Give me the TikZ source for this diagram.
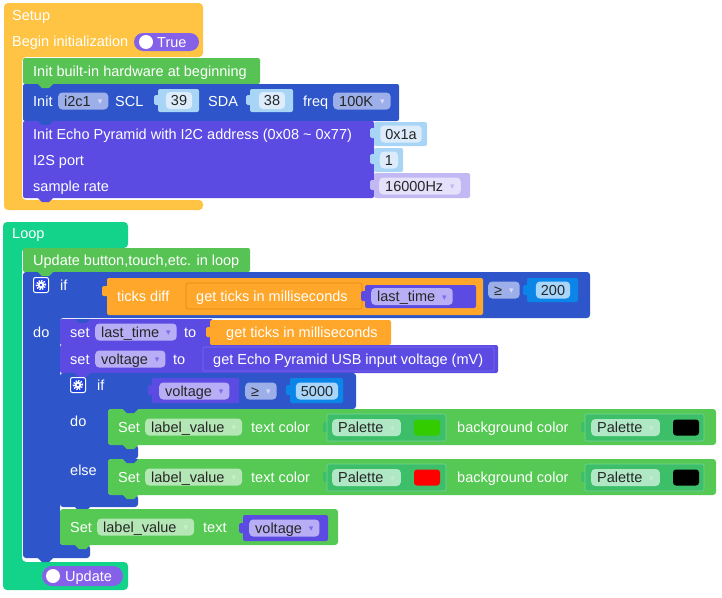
\documentclass[tikz,border=0pt]{standalone}
\usepackage{fontspec}
\setmainfont{Liberation Sans}
\newfontfamily\symfont{DejaVu Sans}
\usepackage{tikz}
\usetikzlibrary{positioning}
\definecolor{csetup}{HTML}{FFC444}
\definecolor{cloop}{HTML}{13D38A}
\definecolor{cgreen}{HTML}{58C355}
\definecolor{cblue}{HTML}{2E56CA}
\definecolor{cpurple}{HTML}{5C4BE3}
\definecolor{cpurpleln}{HTML}{7A6CEA}
\definecolor{corange}{HTML}{FFA72A}
\definecolor{corangeln}{HTML}{E08A12}
\definecolor{cnum}{HTML}{A8D4F6}
\definecolor{cnumin}{HTML}{DCECFA}
\definecolor{ccmp}{HTML}{0B86E8}
\definecolor{ccmpin}{HTML}{A8D6FA}
\definecolor{chz}{HTML}{C2B8F3}
\definecolor{chzin}{HTML}{E5E1FB}
\definecolor{ctoggle}{HTML}{8560E8}
\definecolor{cddblue}{HTML}{9DAFE8}
\definecolor{cddpurple}{HTML}{B8AEF5}
\definecolor{cset}{HTML}{55C953}
\definecolor{cpal}{HTML}{3DBF6A}
\definecolor{cddgreen}{HTML}{B5E6B5}
\definecolor{cddpal}{HTML}{B0E8C6}
\definecolor{cgear}{HTML}{2244DD}
\definecolor{cswgreen}{HTML}{33CC00}
\definecolor{cswred}{HTML}{FF0000}
\newcommand\blk{\fontsize{14.5}{17}\selectfont}
\newcommand\ddarr[1]{\hspace{7pt}\raisebox{1.5pt}{\symfont\fontsize{9}{9}\selectfont\textcolor{#1}{▾}}}

\begin{document}
\begin{tikzpicture}[x=1pt, y=-1pt,
    lbl/.style={anchor=west, inner sep=0pt, text=white, font=\blk, text height=10pt, text depth=0pt},
    dd/.style={anchor=west, rounded corners=4pt, inner xsep=6pt, inner ysep=0pt, minimum height=17pt, text=black!85, font=\blk, text height=10pt, text depth=0pt},
    numbox/.style={rounded corners=4pt, fill=cnumin, inner xsep=5pt, inner ysep=0pt, minimum height=17pt, text=black!85, font=\blk, text height=10pt, text depth=0pt},
    gear/.style={fill=cgear, draw=white, line width=1pt, rounded corners=2pt, minimum size=15pt, inner sep=0pt},
    swatch/.style={rounded corners=3pt, minimum width=26pt, minimum height=16pt, inner sep=0pt},
    inbox/.style={rounded corners=2pt, line width=0.6pt},
    nub/.style={rounded corners=1.5pt},
]
\useasboundingbox (0,0) rectangle (722,597);

% Setup
\fill[csetup, rounded corners=4pt] (4,3) -- (203,3) -- (203,57) -- (22,57) -- (22,200) -- (203,200) -- (203,210) -- (4,210) -- cycle;
\node[lbl] (setup) at (12,15) {Setup};
\node[lbl] (begin) at (12,41) {Begin initialization};
\fill[ctoggle, rounded corners=9pt] (134,33) rectangle (199,51);
\fill[white] (146,42) circle (7pt);
\node[lbl] (true) at (157,42) {True};

\fill[cgreen, rounded corners=2pt] (23,58) rectangle (260,84);
\node[lbl] (hw) at (33,71) {Init built-in hardware at beginning};

\fill[cblue, rounded corners=2pt] (23,84) rectangle (399,121);
\fill[cgreen] (38,84) -- ++(4,4) -- ++(7,0) -- ++(4,-4) -- cycle;
\node[lbl] (init) at (33,101) {Init};
\node[dd, fill=cddblue] (i2c) at (58,101) {i2c1\ddarr{white!85!blue}};
\node[lbl] (scl) at (115,101) {SCL};
\fill[cnum, nub] (154,95) rectangle (160,105);
\fill[cnum, rounded corners=2pt] (158,89) rectangle (199,112);
\node[numbox] (n39) at (179,100.5) {39};
\node[lbl] (sda) at (208,101) {SDA};
\fill[cnum, nub] (246,95) rectangle (252,105);
\fill[cnum, rounded corners=2pt] (250,89) rectangle (293,112);
\node[numbox] (n38) at (272,100.5) {38};
\node[lbl] (freq) at (303,101) {freq};
\node[dd, fill=cddblue] (khz) at (333,101) {100K\ddarr{white!85!blue}};

\fill[cpurple, rounded corners=2pt] (23,121) rectangle (374,198);
\fill[cblue] (38,121) -- ++(4,4) -- ++(7,0) -- ++(4,-4) -- cycle;
\fill[cpurple] (38,198) -- ++(4,4) -- ++(7,0) -- ++(4,-4) -- cycle;
\node[lbl] (echo) at (33,134) {Init Echo Pyramid with I2C address (0x08 \textasciitilde{} 0x77)};
\node[lbl] (port) at (33,160) {I2S port};
\node[lbl] (rate) at (33,186) {sample rate};
\fill[cnum, nub] (370,128) rectangle (376,138);
\fill[cnum, rounded corners=2pt] (374,122) rectangle (427,146);
\node[numbox] (addr) at (401,134) {0x1a};
\fill[cnum, nub] (370,154) rectangle (376,164);
\fill[cnum, rounded corners=2pt] (374,148) rectangle (403,172);
\node[numbox] (n1) at (389,160) {1};
\fill[chz, nub] (370,180) rectangle (376,190);
\fill[chz, rounded corners=2pt] (374,173) rectangle (470,198);
\node[dd, fill=chzin] (hz) at (379,186) {16000Hz\ddarr{chz}};

% Loop
\fill[cloop, rounded corners=4pt] (3,222) -- (128,222) -- (128,248) -- (22,248) -- (22,562) -- (128,562) -- (128,590) -- (3,590) -- cycle;
\node[lbl] (loop) at (12,233) {Loop};
\fill[ctoggle, rounded corners=10pt] (42,566) rectangle (123,586);
\fill[white] (53,576) circle (7pt);
\node[lbl] (update) at (65,576) {Update};

\fill[cgreen, rounded corners=2pt] (23,248) rectangle (250,272);
\node[lbl] (btn) at (33,260) {Update button,touch,etc. in loop};

% Outer if
\fill[cblue, rounded corners=3pt] (23,272) -- (590,272) -- (590,318) -- (60,318) -- (60,545) -- (90,545) -- (90,558) -- (23,558) -- cycle;
\fill[cgreen] (38,272) -- ++(4,4) -- ++(7,0) -- ++(4,-4) -- cycle;
\fill[cblue] (38,558) -- ++(4,4) -- ++(7,0) -- ++(4,-4) -- cycle;
\node[gear] (g1) at (41,285) {};
\fill[white] (g1.center) circle (3.3pt);
\draw[white, line width=2pt, dash pattern=on 1.3pt off 1.3pt] (g1.center) circle (4.3pt);
\fill[cgear] (g1.center) circle (1.4pt);
\node[lbl] (if1) at (60,285) {if};
\node[lbl] (do1) at (33,332) {do};

\fill[corange, nub] (102,286) rectangle (109,296);
\fill[corange, rounded corners=2pt] (107,278) rectangle (483,315);
\node[lbl] (diff) at (117,296) {ticks diff};
\draw[corangeln, fill=corange, inbox] (186,283) rectangle (362,309);
\node[lbl] (ticks1) at (196,296) {get ticks in milliseconds};
\fill[cpurple, nub] (361,291) rectangle (367,301);
\fill[cpurple, rounded corners=2pt] (365,285) rectangle (476,308);
\node[dd, fill=cddpurple] (last1) at (371,296.5) {last\_time\ddarr{cpurpleln}};
\node[dd, fill=cddblue] (ge1) at (488,290) {≥\ddarr{white!85!blue}};
\fill[ccmp, nub] (523,285) rectangle (529,295);
\fill[ccmp, rounded corners=2pt] (527,278) rectangle (578,302);
\node[numbox, fill=ccmpin] (n200) at (553,290) {200};

\fill[cpurple, rounded corners=2pt] (60,319) rectangle (213,345);
\fill[cblue] (75,319) -- ++(4,4) -- ++(7,0) -- ++(4,-4) -- cycle;
\node[lbl] (set1) at (70,332) {set};
\node[dd, fill=cddpurple] (last2) at (95,332) {last\_time\ddarr{cpurpleln}};
\node[lbl] (to1) at (184,332) {to};
\fill[corange, nub] (206,327) rectangle (212,337);
\fill[corange, rounded corners=2pt] (210,320) rectangle (391,345);
\node[lbl] (ticks2) at (226,332) {get ticks in milliseconds};

\fill[cpurple, rounded corners=2pt] (60,345) rectangle (498,373);
\fill[cpurple] (75,345) -- ++(4,4) -- ++(7,0) -- ++(4,-4) -- cycle;
\node[lbl] (set2) at (70,359) {set};
\node[dd, fill=cddpurple] (volt1) at (95,359) {voltage\ddarr{cpurpleln}};
\node[lbl] (to2) at (173,359) {to};
\draw[cpurpleln, fill=cpurple, inbox] (203,347) rectangle (494,371);
\node[lbl] (usb) at (213,359) {get Echo Pyramid USB input voltage (mV)};

% Inner if
\fill[cblue, rounded corners=3pt] (60,373) -- (356,373) -- (356,409) -- (108,409) -- (108,445) -- (138,445) -- (138,459) -- (108,459) -- (108,495) -- (138,495) -- (138,507) -- (60,507) -- cycle;
\fill[cpurple] (75,373) -- ++(4,4) -- ++(7,0) -- ++(4,-4) -- cycle;
\fill[cblue] (75,507) -- ++(4,4) -- ++(7,0) -- ++(4,-4) -- cycle;
\node[gear] (g2) at (78,385) {};
\fill[white] (g2.center) circle (3.3pt);
\draw[white, line width=2pt, dash pattern=on 1.3pt off 1.3pt] (g2.center) circle (4.3pt);
\fill[cgear] (g2.center) circle (1.4pt);
\node[lbl] (if2) at (97,385) {if};
\node[lbl] (do2) at (70,421) {do};
\node[lbl] (else) at (70,470) {else};
\fill[cpurple, nub] (148,385) rectangle (154,395);
\fill[cpurple, rounded corners=2pt] (152,378) rectangle (239,403);
\node[dd, fill=cddpurple] (volt2) at (159,391) {voltage\ddarr{cpurpleln}};
\node[dd, fill=cddblue] (ge2) at (245,391) {≥\ddarr{white!85!blue}};
\fill[ccmp, nub] (286,385) rectangle (292,395);
\fill[ccmp, rounded corners=2pt] (290,378) rectangle (343,403);
\node[numbox, fill=ccmpin] (n5000) at (317,391) {5000};

% Set text color rows
\fill[cset, rounded corners=3pt] (108,409) rectangle (716,445);
\fill[cblue] (123,409) -- ++(4,4) -- ++(7,0) -- ++(4,-4) -- cycle;
\fill[cset] (123,445) -- ++(4,4) -- ++(7,0) -- ++(4,-4) -- cycle;
\node[lbl] (set3) at (118,427) {Set};
\node[dd, fill=cddgreen] (lv1) at (145,427) {label\_value\ddarr{white!70!cset}};
\node[lbl] (tc1) at (251,427) {text color};
\fill[cpal, nub] (323,422) rectangle (329,432);
\draw[white!30!cpal, fill=cpal, inbox] (327,414) rectangle (446,441);
\node[dd, fill=cddpal] (pal1) at (332,427.5) {Palette\ddarr{white!70!cpal}};
\node[swatch, fill=cswgreen] (sw1) at (427,427.5) {};
\node[lbl] (bg1) at (457,427) {background color};
\fill[cpal, nub] (581,422) rectangle (587,432);
\draw[white!30!cpal, fill=cpal, inbox] (585,414) rectangle (704,441);
\node[dd, fill=cddpal] (pal2) at (591,427.5) {Palette\ddarr{white!70!cpal}};
\node[swatch, fill=black] (sw2) at (686,427.5) {};

\fill[cset, rounded corners=3pt] (108,459) rectangle (716,495);
\fill[cblue] (123,459) -- ++(4,4) -- ++(7,0) -- ++(4,-4) -- cycle;
\fill[cset] (123,495) -- ++(4,4) -- ++(7,0) -- ++(4,-4) -- cycle;
\node[lbl] (set4) at (118,477) {Set};
\node[dd, fill=cddgreen] (lv2) at (145,477) {label\_value\ddarr{white!70!cset}};
\node[lbl] (tc2) at (251,477) {text color};
\fill[cpal, nub] (323,472) rectangle (329,482);
\draw[white!30!cpal, fill=cpal, inbox] (327,464) rectangle (446,491);
\node[dd, fill=cddpal] (pal3) at (332,477.5) {Palette\ddarr{white!70!cpal}};
\node[swatch, fill=cswred] (sw3) at (427,477.5) {};
\node[lbl] (bg2) at (457,477) {background color};
\fill[cpal, nub] (581,472) rectangle (587,482);
\draw[white!30!cpal, fill=cpal, inbox] (585,464) rectangle (704,491);
\node[dd, fill=cddpal] (pal4) at (591,477.5) {Palette\ddarr{white!70!cpal}};
\node[swatch, fill=black] (sw4) at (686,477.5) {};

% Set text
\fill[cset, rounded corners=3pt] (60,509) rectangle (338,545);
\fill[cset] (75,545) -- ++(4,4) -- ++(7,0) -- ++(4,-4) -- cycle;
\node[lbl] (set5) at (70,527) {Set};
\node[dd, fill=cddgreen] (lv3) at (97,527) {label\_value\ddarr{white!70!cset}};
\node[lbl] (txt) at (203,527) {text};
\fill[cpurple, nub] (239,523) rectangle (245,533);
\fill[cpurple, rounded corners=2pt] (243,515) rectangle (328,541);
\node[dd, fill=cddpurple] (volt3) at (249,528) {voltage\ddarr{cpurpleln}};

\end{tikzpicture}
\end{document}
